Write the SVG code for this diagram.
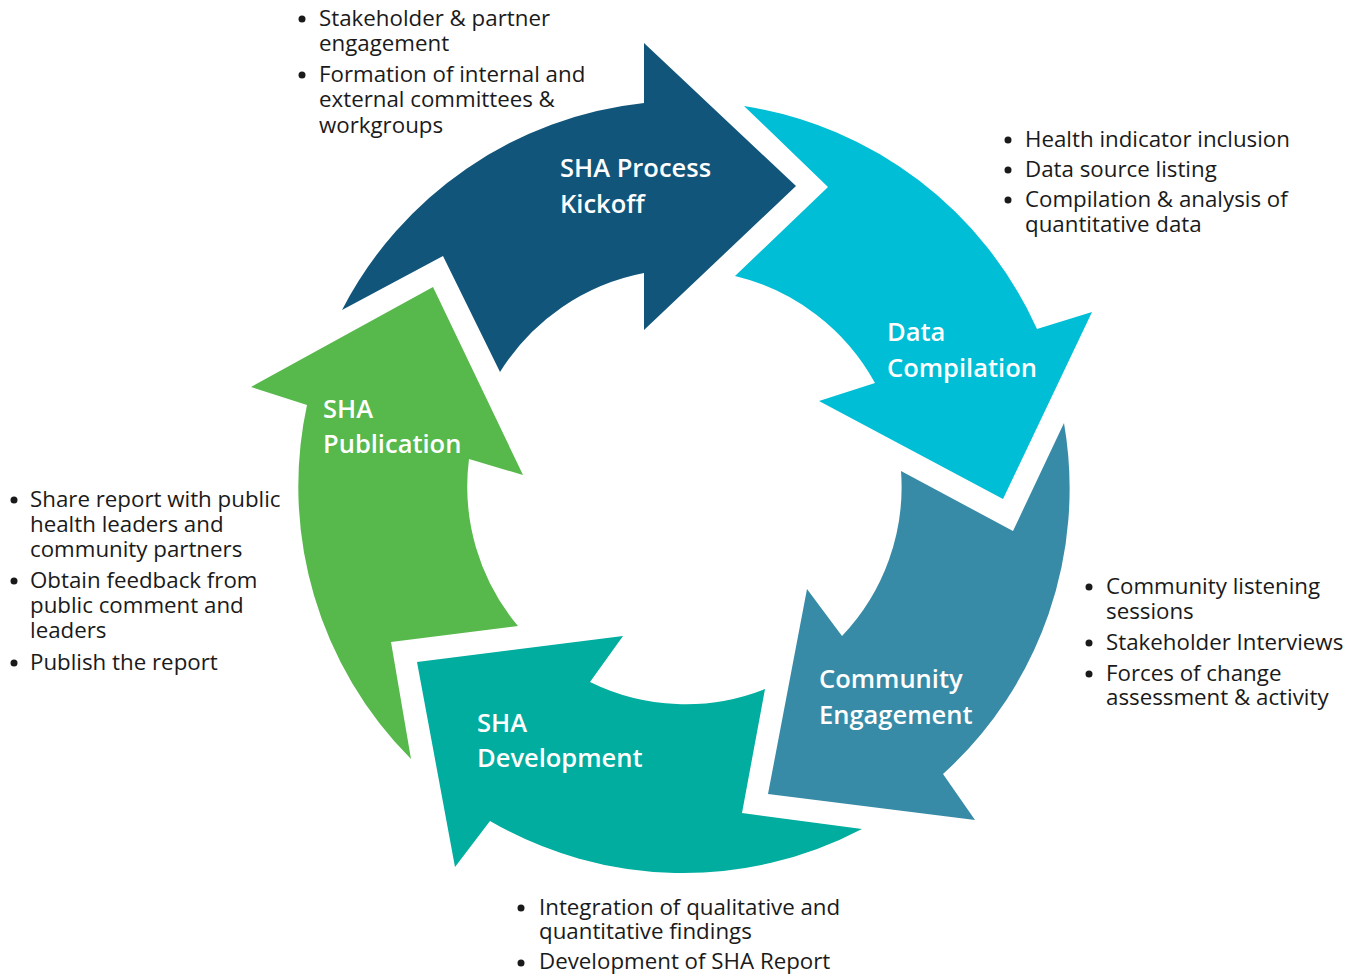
<svg xmlns="http://www.w3.org/2000/svg" width="1359" height="975" viewBox="0 0 1359 975">
<style>
.lbl{font-family:"Open Sans","Liberation Sans",sans-serif;font-weight:600;font-size:25.5px;fill:#ffffff}
.txt{font-family:"Open Sans","Liberation Sans",sans-serif;font-size:22.3px;fill:#1a1a1a}
.dot{fill:#1a1a1a}
</style>
<rect width="1359" height="975" fill="#ffffff"/>
<g id="connectors"/>
<g id="kickoff">
<path d="M342,310 A386,386 0 0 1 644,103 L644,43 L796,186 L644,330 L644,273 A218,218 0 0 0 500,372 L443,256 Z" fill="#12557A"/>
<text class="lbl" x="560" y="177"><tspan x="560" y="177">SHA Process</tspan><tspan x="560" y="213">Kickoff</tspan></text>
</g>
<g id="data-compilation">
<path d="M744,106 A386,386 0 0 1 1037,329 L1092,312 L1003,499 L819,401 L875,383 A217,217 0 0 0 735,276 L828,187 Z" fill="#00BED5"/>
<text class="lbl" x="887" y="341"><tspan x="887" y="341">Data</tspan><tspan x="887" y="377">Compilation</tspan></text>
</g>
<g id="community-engagement">
<path d="M1064,423 A385,385 0 0 1 943,774 L975,820 L768,794 L807,589 L842,636 A216,216 0 0 0 901,471 L1013,531 Z" fill="#388BA6"/>
<text class="lbl" x="819" y="688"><tspan x="819" y="688">Community</tspan><tspan x="819" y="724">Engagement</tspan></text>
</g>
<g id="sha-development">
<path d="M862,829 A385,385 0 0 1 490,821 L455,867 L417,662 L623,636 L590,682 A216,216 0 0 0 765,689 L742,813 Z" fill="#00AD9F"/>
<text class="lbl" x="477" y="732"><tspan x="477" y="732">SHA</tspan><tspan x="477" y="767">Development</tspan></text>
</g>
<g id="sha-publication">
<path d="M411,759 A386,386 0 0 1 307,405 L251,387 L433,287 L523,475 L469,459 A217,217 0 0 0 518,626 L391,642 Z" fill="#57B84B"/>
<text class="lbl" x="323" y="418"><tspan x="323" y="418">SHA</tspan><tspan x="323" y="453">Publication</tspan></text>
</g>
<g id="notes-kickoff">
<circle class="dot" cx="302" cy="19" r="3.5"/>
<circle class="dot" cx="302" cy="75" r="3.5"/>
<text class="txt" x="319" y="26"><tspan x="319" y="26">Stakeholder &amp; partner</tspan><tspan x="319" y="51">engagement</tspan><tspan x="319" y="82">Formation of internal and</tspan><tspan x="319" y="107">external committees &amp;</tspan><tspan x="319" y="133">workgroups</tspan></text>
</g>
<g id="notes-data">
<circle class="dot" cx="1008" cy="140" r="3.5"/>
<circle class="dot" cx="1008" cy="170" r="3.5"/>
<circle class="dot" cx="1008" cy="200" r="3.5"/>
<text class="txt" x="1025" y="147"><tspan x="1025" y="147">Health indicator inclusion</tspan><tspan x="1025" y="177">Data source listing</tspan><tspan x="1025" y="207">Compilation &amp; analysis of</tspan><tspan x="1025" y="232">quantitative data</tspan></text>
</g>
<g id="notes-community">
<circle class="dot" cx="1089" cy="587" r="3.5"/>
<circle class="dot" cx="1089" cy="643" r="3.5"/>
<circle class="dot" cx="1089" cy="674" r="3.5"/>
<text class="txt" x="1106" y="594"><tspan x="1106" y="594">Community listening</tspan><tspan x="1106" y="619">sessions</tspan><tspan x="1106" y="650">Stakeholder Interviews</tspan><tspan x="1106" y="681">Forces of change</tspan><tspan x="1106" y="705">assessment &amp; activity</tspan></text>
</g>
<g id="notes-development">
<circle class="dot" cx="521" cy="908" r="3.5"/>
<circle class="dot" cx="521" cy="963" r="3.5"/>
<text class="txt" x="539" y="915"><tspan x="539" y="915">Integration of qualitative and</tspan><tspan x="539" y="939">quantitative findings</tspan><tspan x="539" y="969">Development of SHA Report</tspan></text>
</g>
<g id="notes-publication">
<circle class="dot" cx="14" cy="500" r="3.5"/>
<circle class="dot" cx="14" cy="581" r="3.5"/>
<circle class="dot" cx="14" cy="663" r="3.5"/>
<text class="txt" x="30" y="507"><tspan x="30" y="507">Share report with public</tspan><tspan x="30" y="532">health leaders and</tspan><tspan x="30" y="557">community partners</tspan><tspan x="30" y="588">Obtain feedback from</tspan><tspan x="30" y="613">public comment and</tspan><tspan x="30" y="638">leaders</tspan><tspan x="30" y="670">Publish the report</tspan></text>
</g>
</svg>
